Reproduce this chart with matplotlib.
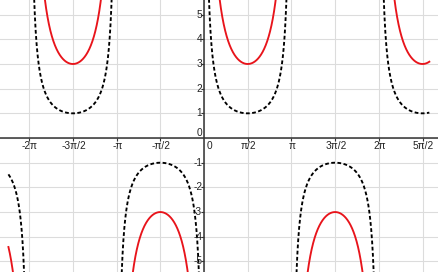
import numpy as np
import matplotlib.pyplot as plt

# curves: y = a * csc(x)
amplitudes = [1, 3]
colors = ["black", "#e8141b"]
styles = ["dashed", "solid"]
x_start, x_end = -7.03, 8.1

x_ticks = [-4, -3, -2, -1, 1, 2, 3, 4, 5]  # multiples of pi/2
x_tick_labels = ["-2π", "-3π/2", "-π", "-π/2", "π/2", "π", "3π/2", "2π", "5π/2"]
y_ticks = [-5, -4, -3, -2, -1, 1, 2, 3, 4, 5]


def main():
    plt.rcParams["font.family"] = ["Liberation Sans", "DejaVu Sans"]
    fig = plt.figure(figsize=(4.39, 2.72), dpi=100)
    ax = fig.add_axes([0, 0, 1, 1])
    ax.set_xlim(-7.333, 8.447)
    ax.set_ylim(-5.43, 5.594)
    for s in ax.spines.values():
        s.set_visible(False)
    ax.set_xticks([])
    ax.set_yticks([])

    for k in range(-5, 6):
        ax.axvline(k * np.pi / 2, color="#dcdcdc", lw=0.8, zorder=0)
    for k in range(-5, 6):
        ax.axhline(k, color="#dcdcdc", lw=0.8, zorder=0)
    ax.axhline(0, color="#333333", lw=1.1, zorder=1)
    ax.axvline(0, color="#333333", lw=1.1, zorder=1)

    # small tick marks on the axes
    xt = np.array(x_ticks) * np.pi / 2
    ax.plot(xt, np.zeros_like(xt), ls="none", marker=3, ms=2.5,
            mew=0.8, color="#333333", zorder=1)
    yt = np.array(y_ticks, dtype=float)
    ax.plot(np.zeros_like(yt), yt, ls="none", marker=0, ms=2.5,
            mew=0.8, color="#333333", zorder=1)

    x = np.linspace(x_start, x_end, 6000)
    s = np.sin(x)
    for a, c, ls in zip(amplitudes, colors, styles):
        y = a / s
        y[np.abs(y) > 8] = np.nan
        line, = ax.plot(x, y, color=c, lw=1.35, zorder=3)
        if ls == "dashed":
            line.set_dashes((2.0, 1.3))

    for t, lab in zip(x_ticks, x_tick_labels):
        ax.text(t * np.pi / 2 + 0.03, -0.33, lab, ha="center", va="center",
                fontsize=7.3, color="#222222")
    ax.text(0.18, -0.33, "0", ha="center", va="center", fontsize=7.3, color="#222222")
    for t in y_ticks:
        ax.text(-0.07, t, str(t), ha="right", va="center",
                fontsize=7.3, color="#222222")
    ax.text(-0.07, 0.2, "0", ha="right", va="center", fontsize=7.3, color="#222222")

    fig.savefig("out.png", dpi=100)


if __name__ == "__main__":
    main()
